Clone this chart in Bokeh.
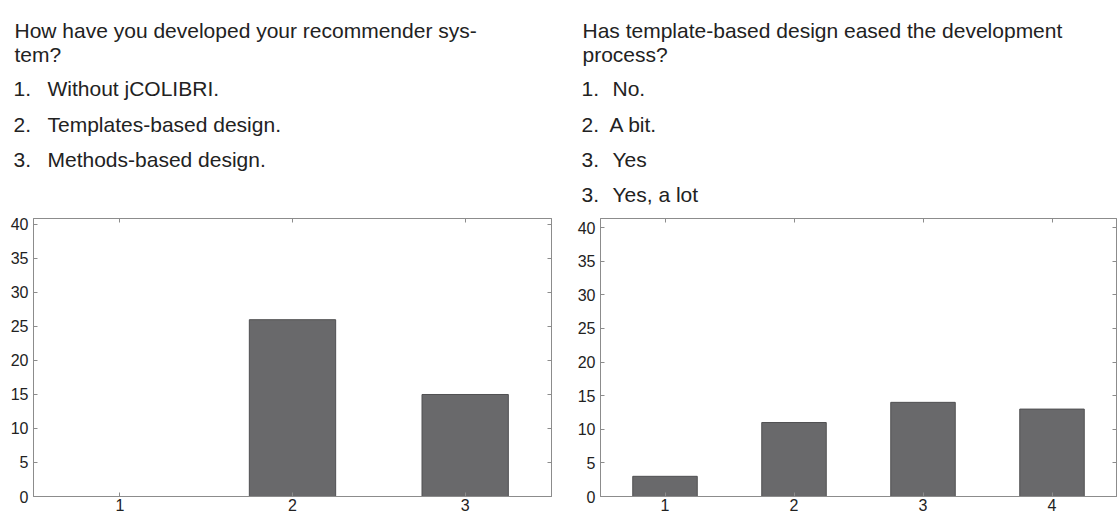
from bokeh.plotting import figure
from bokeh.models import Range1d, LinearAxis, FixedTicker
from bokeh.layouts import row, column
from bokeh.embed import file_html
from bokeh.resources import INLINE
from bokeh.core.properties import value

# ---------------- data ----------------
q1_title = ["How have you developed your recommender sys-", "tem?"]
q1_nums = ["1.", "2.", "3."]
q1_options = ["Without jCOLIBRI.", "Templates-based design.", "Methods-based design."]
q1_categories = [1, 2, 3]
q1_counts = [0, 26, 15]

q2_title = ["Has template-based design eased the development", "process?"]
q2_nums = ["1.", "2.", "3.", "3."]
q2_options = ["No.", "A bit.", "Yes", "Yes, a lot"]
q2_categories = [1, 2, 3, 4]
q2_counts = [3, 11, 14, 13]

y_ticks = [0, 5, 10, 15, 20, 25, 30, 35, 40]

FONT = "Liberation Sans"
AXIS_COLOR = "#8c8c8c"
TEXT_COLOR = "#222222"
BAR_FILL = "#69696b"
BAR_LINE = "#505052"
W_TOTAL = 1117
H_TOTAL = 518
H_HEAD = 212
HEAD_SIZE = "21px"


def header_texts(title, nums, options, num_x, opt_x):
    title_base = [30, 54]
    item_base = [88, 124, 159, 194]
    xs = [num_x + 1] * len(title)
    ys = title_base[:len(title)]
    texts = list(title)
    for i, (nm, op) in enumerate(zip(nums, options)):
        xs += [num_x, opt_x[i]]
        ys += [item_base[i], item_base[i]]
        texts += [nm, op]
    return xs, ys, texts


def make_header():
    h = figure(width=W_TOTAL, height=H_HEAD, output_backend="svg", toolbar_location=None,
               x_range=Range1d(0, W_TOTAL), y_range=Range1d(H_HEAD, 0),
               min_border=0, x_axis_location=None, y_axis_location=None)
    h.grid.visible = False
    h.outline_line_color = None
    for args in [(q1_title, q1_nums, q1_options, 13, [47, 47, 47]),
                 (q2_title, q2_nums, q2_options, 581, [612, 609, 612, 612])]:
        xs, ys, texts = header_texts(*args)
        h.text(x=xs, y=ys, text=texts, text_font=value(FONT),
               text_font_size=value(HEAD_SIZE), text_color=TEXT_COLOR,
               text_baseline="alphabetic", text_align="left")
    return h


def make_chart(width, left_border, right_border, top_border, bottom_border,
               cats, counts, ymax):
    n = len(cats)
    p = figure(width=width, height=H_TOTAL - H_HEAD, output_backend="svg",
               toolbar_location=None,
               x_range=Range1d(0.5, n + 0.5), y_range=Range1d(0, ymax),
               min_border_left=left_border, min_border_right=right_border,
               min_border_top=top_border, min_border_bottom=bottom_border,
               x_axis_location=None, y_axis_location=None)
    p.grid.visible = False
    p.outline_line_color = AXIS_COLOR

    p.vbar(x=cats, top=counts, width=0.5, bottom=0,
           fill_color=BAR_FILL, line_color=BAR_LINE, line_width=1)

    def style(ax, labels):
        ax.axis_line_color = AXIS_COLOR
        ax.major_tick_line_color = AXIS_COLOR
        ax.major_tick_in = 4
        ax.major_tick_out = 0
        ax.minor_tick_line_color = None
        if labels:
            ax.major_label_text_font = FONT
            ax.major_label_text_font_size = "16px"
            ax.major_label_text_color = TEXT_COLOR
            ax.major_label_standoff = 4
        else:
            ax.major_label_text_color = None
            ax.major_label_text_font_size = "1px"
            ax.major_label_standoff = 0

    yl = LinearAxis(ticker=FixedTicker(ticks=y_ticks))
    style(yl, True)
    yl.major_label_standoff = 5
    p.add_layout(yl, "left")
    yr = LinearAxis(ticker=FixedTicker(ticks=y_ticks))
    style(yr, False)
    p.add_layout(yr, "right")
    xb = LinearAxis(ticker=FixedTicker(ticks=cats))
    style(xb, True)
    xb.major_label_standoff = 2
    p.add_layout(xb, "below")
    xt = LinearAxis(ticker=FixedTicker(ticks=cats))
    style(xt, False)
    p.add_layout(xt, "above")
    return p


head = make_header()
c1 = make_chart(574, 33, 23, 217 - H_HEAD, 22, q1_categories, q1_counts, 40.88)
c2 = make_chart(543, 25, 1, 218 - H_HEAD, 22, q2_categories, q2_counts, 41.34)

layout = column(head, row(c1, c2))
open("out.html", "w").write(file_html(layout, INLINE))
